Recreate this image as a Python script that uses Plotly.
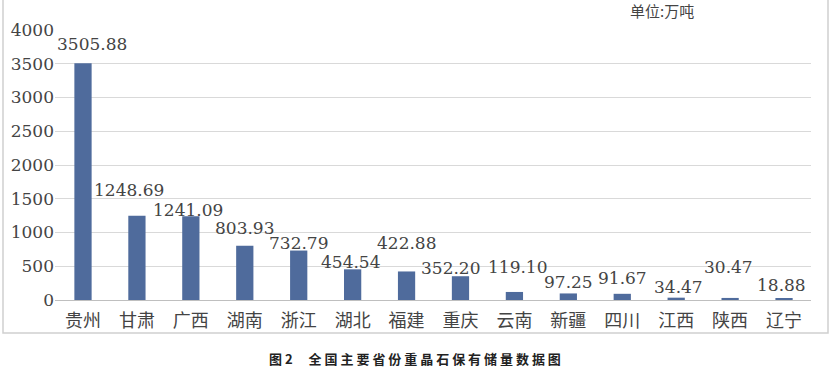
import plotly.graph_objects as go

provinces = ["贵州", "甘肃", "广西", "湖南", "浙江", "湖北", "福建",
             "重庆", "云南", "新疆", "四川", "江西", "陕西", "辽宁"]
reserves = [3505.88, 1248.69, 1241.09, 803.93, 732.79, 454.54, 422.88,
            352.20, 119.10, 97.25, 91.67, 34.47, 30.47, 18.88]
label_text = ["3505.88", "1248.69", "1241.09", "803.93", "732.79", "454.54", "422.88",
              "352.20", "119.10", "97.25", "91.67", "34.47", "30.47", "18.88"]
y_ticks = [0, 500, 1000, 1500, 2000, 2500, 3000, 3500, 4000]

# label offsets (pixels) relative to bar top
label_dx = [9, -8, -3, 0, 0, -2, 0, -10, 3, 0, 0, 2, -2, -3]
label_dy = [19, 26, 6, 18, 8, 7, 28, 8, 25, 11, 16, 11, 31, 14]

NUMF = "DejaVu Serif, Noto Sans CJK SC, serif"
CJK = "Noto Sans CJK SC"

fig = go.Figure(go.Bar(
    x=provinces, y=reserves,
    marker=dict(color="#4f6b9c", line=dict(width=0)),
    width=0.32,
))

annotations = []
for p, v, t, dx, dy in zip(provinces, reserves, label_text, label_dx, label_dy):
    annotations.append(dict(
        x=p, y=v, xref="x", yref="y", text=t, showarrow=False,
        xshift=dx, yshift=dy, yanchor="middle", xanchor="center",
        font=dict(family=NUMF, size=17, color="#444444"),
    ))

annotations.append(dict(
    x=(662 - 55) / 756, y=(300 - 11) / 270, xref="paper", yref="paper",
    text="单位:万吨", showarrow=False, xanchor="center", yanchor="middle",
    font=dict(family=CJK, size=15, color="#444444"),
))
annotations.append(dict(
    x=(415 - 55) / 756, y=(300 - 358) / 270, xref="paper", yref="paper",
    text="<b>图 2　 全 国 主 要 省 份 重 晶 石 保 有 储 量 数 据 图</b>",
    showarrow=False, xanchor="center", yanchor="middle",
    font=dict(family=CJK, size=13, color="#222222"),
))

fig.update_layout(
    width=832, height=371,
    margin=dict(l=55, r=21, t=30, b=71),
    paper_bgcolor="white", plot_bgcolor="white",
    showlegend=False,
    annotations=annotations,
    shapes=[dict(
        type="rect", xref="paper", yref="paper",
        x0=(3 - 55) / 756, x1=(828 - 55) / 756,
        y0=(300 - 333) / 270, y1=(300 + 2) / 270,
        line=dict(color="#d0d0d0", width=1.5), fillcolor="rgba(0,0,0,0)",
        layer="below",
    )],
    xaxis=dict(
        showgrid=False, showline=True, linecolor="#bfbfbf", linewidth=1,
        ticks="", tickfont=dict(family=CJK, size=18, color="#444444"),
        ticklabelstandoff=4,
        fixedrange=True,
    ),
    yaxis=dict(
        range=[0, 4000], tickvals=y_ticks, ticktext=[str(v) for v in y_ticks],
        showgrid=True, gridcolor="#d9d9d9", gridwidth=1,
        zeroline=False, showline=False, ticks="",
        tickfont=dict(family=NUMF, size=17, color="#444444"),
        fixedrange=True,
    ),
)

fig.write_html("out.html", config={"displayModeBar": False},
               post_script="document.body.style.margin='0';")
